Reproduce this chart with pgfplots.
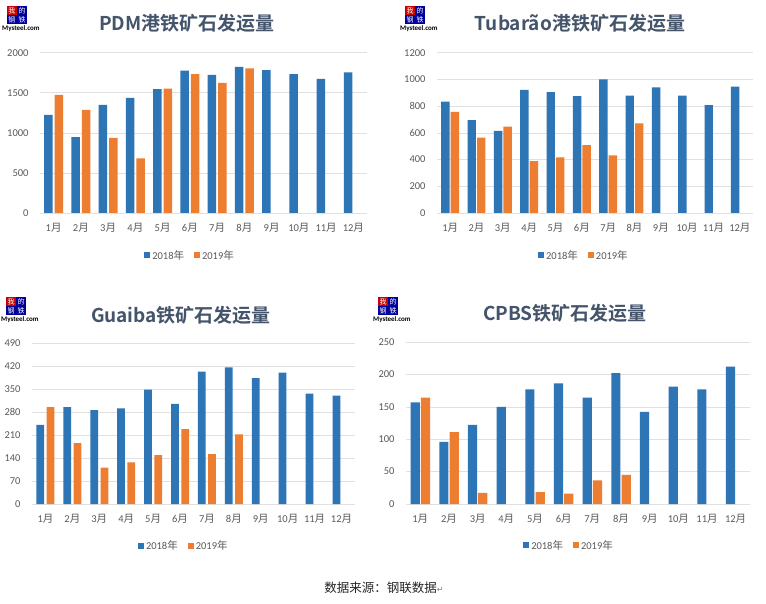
\documentclass[border=0pt]{standalone}
\usepackage{pgfplots}
\pgfplotsset{compat=1.18}
\usepackage{fontspec}
\setmainfont{Carlito}
\newfontfamily\cjk{Noto Sans CJK SC}
\newfontfamily\cjkb{Noto Sans CJK SC Bold}
\newfontfamily\dejavu{DejaVu Sans}
\definecolor{c18}{HTML}{2E75B6}
\definecolor{c19}{HTML}{ED7D31}
\definecolor{tgray}{HTML}{595959}
\definecolor{ttl}{HTML}{44546A}
\newcommand\yue{{\cjk 月}}
\newcommand\nian{{\cjk 年}}
\pgfplotsset{
  panel/.style={
    scale only axis, ymin=0, xmin=0.5, xmax=12.5,
    xtick={1,...,12},
    xticklabels={1\yue,2\yue,3\yue,4\yue,5\yue,6\yue,7\yue,8\yue,9\yue,10\yue,11\yue,12\yue},
    major tick length=0pt,
    axis line style={draw=none},
    ymajorgrids, grid style={draw=black!12, line width=0.6pt},
    tick label style={color=tgray, font=\fontsize{10.5}{11}\selectfont},
    /pgf/number format/assume math mode=true,
    /pgf/number format/1000 sep={},
    yticklabel style={xshift=-8pt},
    xticklabel style={yshift=-7pt},
    legend columns=2,
    legend style={draw=none, fill=none, font=\fontsize{10.5}{11}\selectfont\color{tgray},
      anchor=center, /tikz/every even column/.append style={column sep=8pt}},
    legend image code/.code={\fill[##1] (0pt,-3pt) rectangle (6pt,3pt);},
  },
}
\newcommand\logo[2]{%
  \fill[red!80!black] (#1,#2) rectangle ++(10pt,-9pt);
  \fill[blue!60!black] (#1+10pt,#2) rectangle ++(10pt,-9pt);
  \fill[blue!60!black] (#1,#2-9pt) rectangle ++(10pt,-9pt);
  \fill[blue!60!black] (#1+10pt,#2-9pt) rectangle ++(10pt,-9pt);
  \node[white,font=\cjk\fontsize{7}{7}\selectfont,inner sep=0] at (#1+5pt,#2-4.5pt) {我};
  \node[white,font=\cjk\fontsize{7}{7}\selectfont,inner sep=0] at (#1+15pt,#2-4.5pt) {的};
  \node[white,font=\cjk\fontsize{7}{7}\selectfont,inner sep=0] at (#1+5pt,#2-13.5pt) {钢};
  \node[white,font=\cjk\fontsize{7}{7}\selectfont,inner sep=0] at (#1+15pt,#2-13.5pt) {铁};
  \node[black,font=\bfseries\fontsize{7}{7}\selectfont,inner sep=0,anchor=north west] at (#1-5pt,#2-19pt) {Mysteel.com};
}
\begin{document}
\begin{tikzpicture}
\useasboundingbox (0pt,0pt) rectangle (766pt,603pt);
\fill[white] (0pt,0pt) rectangle (766pt,603pt);

% ---------- PDM ----------
\begin{axis}[panel, at={(40pt,390pt)}, anchor=south west, width=327pt, height=160.3pt,
  ymax=2000, ytick={0,500,...,2000},
  legend style={at={(0.459,-0.265)}}]
\addplot[ybar, fill=c18, draw=none, bar width=0.31, bar shift=-0.19] coordinates {
(1,1224) (2,946) (3,1349) (4,1436) (5,1544) (6,1776) (7,1722) (8,1822) (9,1784) (10,1734) (11,1672) (12,1755)};
\addplot[ybar, fill=c19, draw=none, bar width=0.31, bar shift=0.19] coordinates {
(1,1473) (2,1286) (3,938) (4,680) (5,1552) (6,1734) (7,1622) (8,1805)};
\legend{2018\nian,2019\nian}
\end{axis}
\node[font=\cjkb\fontsize{19}{20}\selectfont, color=ttl] at (187pt,580pt) {PDM港铁矿石发运量};
\logo{7pt}{597pt}

% ---------- Tubarao ----------
\begin{axis}[panel, at={(437pt,390pt)}, anchor=south west, width=316pt, height=160.3pt,
  ymax=1200, ytick={0,200,...,1200},
  legend style={at={(0.465,-0.265)}}]
\addplot[ybar, fill=c18, draw=none, bar width=0.32, bar shift=-0.18] coordinates {
(1,834) (2,695) (3,615) (4,921) (5,904) (6,874) (7,1001) (8,879) (9,941) (10,879) (11,807) (12,946)};
\addplot[ybar, fill=c19, draw=none, bar width=0.32, bar shift=0.18] coordinates {
(1,757) (2,565) (3,647) (4,388) (5,416) (6,508) (7,431) (8,670)};
\legend{2018\nian,2019\nian}
\end{axis}
\node[font=\cjkb\fontsize{19}{20}\selectfont, color=ttl] at (580pt,580pt) {Tubarão港铁矿石发运量};
\logo{405pt}{597pt}

% ---------- Guaiba ----------
\begin{axis}[panel, at={(32pt,99pt)}, anchor=south west, width=323pt, height=161pt,
  ymax=490, ytick={0,70,...,490},
  legend style={at={(0.47,-0.258)}}]
\addplot[ybar, fill=c18, draw=none, bar width=0.29, bar shift=-0.19] coordinates {
(1,241) (2,295) (3,286) (4,291) (5,348) (6,305) (7,403) (8,416) (9,383) (10,400) (11,336) (12,330)};
\addplot[ybar, fill=c19, draw=none, bar width=0.29, bar shift=0.19] coordinates {
(1,295) (2,185) (3,111) (4,127) (5,149) (6,228) (7,152) (8,212)};
\legend{2018\nian,2019\nian}
\end{axis}
\node[font=\cjkb\fontsize{19}{20}\selectfont, color=ttl] at (181pt,288pt) {Guaiba铁矿石发运量};
\logo{6pt}{306pt}

% ---------- CPBS ----------
\begin{axis}[panel, at={(406pt,99pt)}, anchor=south west, width=344pt, height=162pt,
  ymax=250, ytick={0,50,...,250},
  legend style={at={(0.474,-0.256)}}]
\addplot[ybar, fill=c18, draw=none, bar width=0.32, bar shift=-0.18] coordinates {
(1,157) (2,96) (3,122) (4,150) (5,177) (6,186) (7,164) (8,202) (9,142) (10,181) (11,177) (12,212)};
\addplot[ybar, fill=c19, draw=none, bar width=0.32, bar shift=0.18] coordinates {
(1,164) (2,111) (3,17) (5,18.5) (6,16) (7,36.5) (8,45)};
\legend{2018\nian,2019\nian}
\end{axis}
\node[font=\cjkb\fontsize{19}{20}\selectfont, color=ttl] at (565pt,290pt) {CPBS铁矿石发运量};
\logo{378pt}{306pt}

% ---------- footer ----------
\node[font=\cjk\fontsize{12.5}{13}\selectfont, color=black!85] at (384pt,15pt) {数据来源：钢联数据{\dejavu\fontsize{8}{8}\selectfont\color{gray}↵}};
\end{tikzpicture}
\end{document}
